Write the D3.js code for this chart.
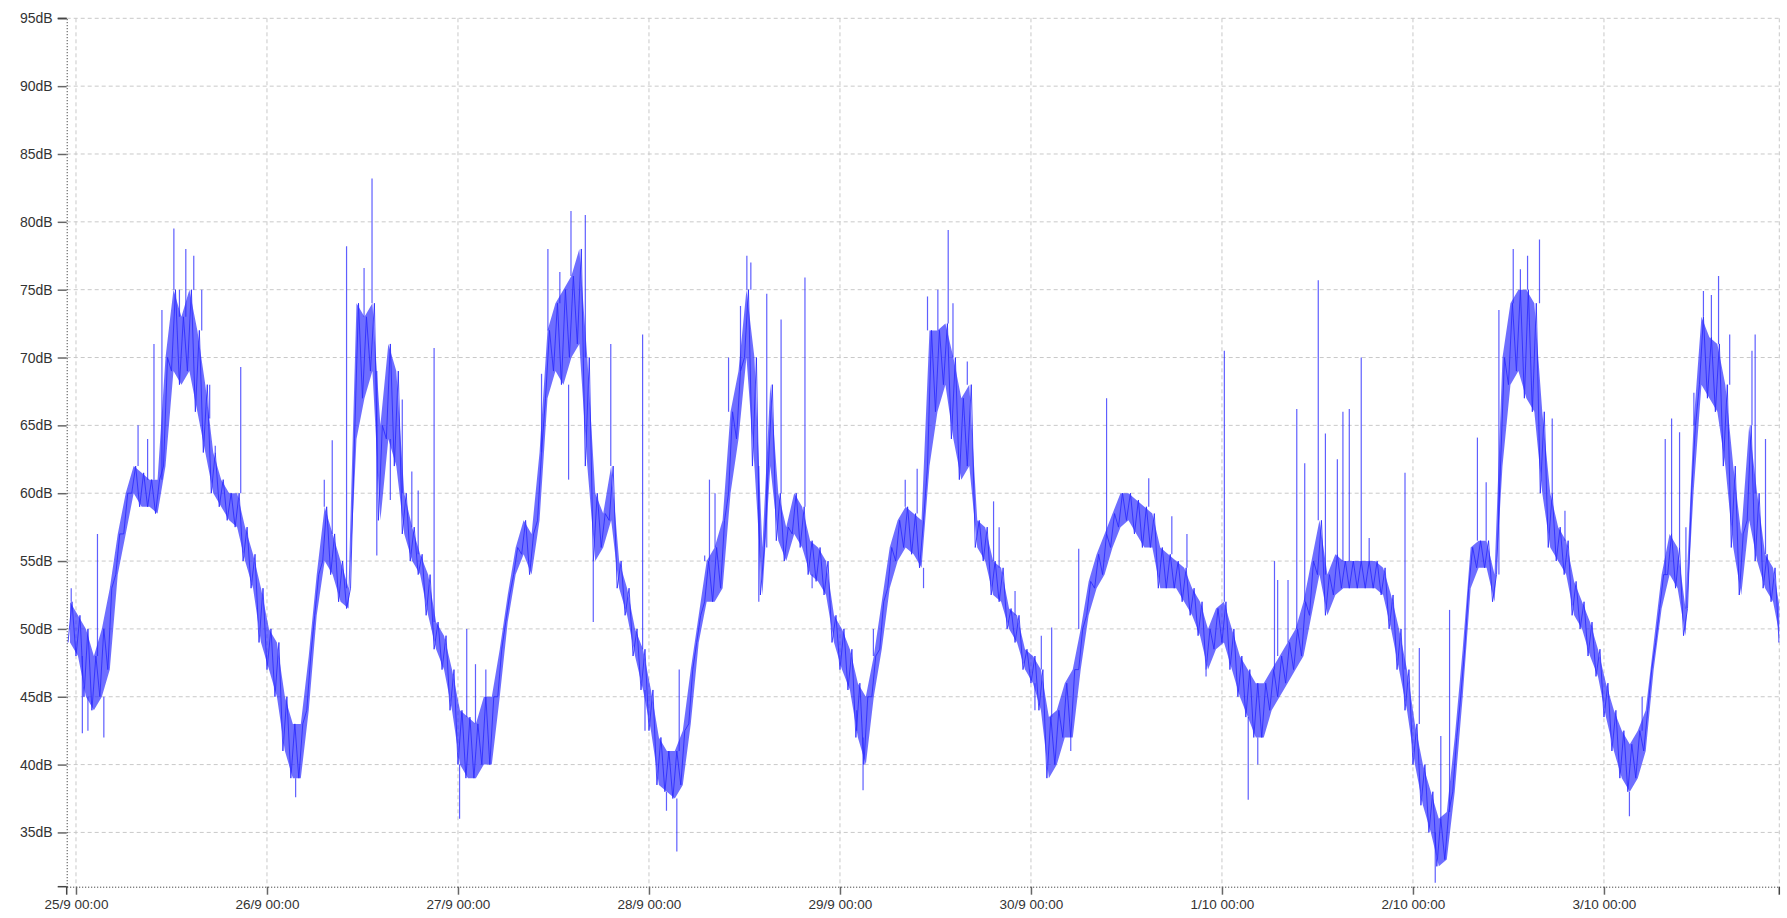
<!DOCTYPE html>
<html><head><meta charset="utf-8">
<script src="https://cdn.jsdelivr.net/npm/d3@7"></script>
<style>html,body{margin:0;padding:0;background:#fff;}svg{display:block}</style>
</head><body>
<svg id="chart" width="1787" height="918"></svg>
<script>
// ---- DATA ----
// hourly readings starting at 24/9 23:00 (hour -1 relative to 25/9 00:00)
const firstHour = -1;
const bodyLow = [
  49, 48, 45, 44, 45, 47, 54, 57, 60, 59, 59, 58.5, 62, 69, 68, 69, 66, 63, 60, 59, 58, 57.5, 55, 53, 49,
  47, 45, 41, 39, 39, 44, 51, 55, 54, 52, 51.5, 64, 67, 69, 58, 64, 62, 57, 55, 54, 51, 48.5, 47, 44,
  40, 39, 39, 40, 40, 45, 50.5, 54, 55.5, 54, 58, 67, 69, 68, 70, 71, 62, 55, 56, 58, 53, 51, 48, 45.5,
  42.5, 38.5, 38, 37.5, 38.5, 43, 49, 52, 52, 53, 60, 64, 70, 62, 52.5, 62, 56.5, 55, 57, 56, 54, 53.5, 52.5, 49,
  47, 45.5, 42, 40, 45, 48.5, 53, 55, 56, 55.5, 54.5, 62, 66, 68, 64, 61, 62, 56, 55, 52.5, 52, 50, 49, 47,
  46, 44, 39, 40, 42, 42, 47, 51, 53, 54, 56, 57.5, 58, 57, 56, 56, 53, 53, 53, 52, 51, 49.5, 47, 48.5,
  49, 47, 45, 43.5, 42, 42, 44, 45, 46, 47, 48, 51, 54, 51, 52.5, 53, 53, 53, 53, 53, 52.5, 50, 47, 44,
  40, 37, 35, 32.5, 33, 38, 45, 53, 54.5, 54.5, 52, 62, 68, 69, 67, 66, 60, 56, 55, 54, 51, 50, 48, 46.5,
  43.5, 41, 39, 38, 39, 41, 47, 51.5, 54, 53, 49.5, 60, 68, 67, 66, 62, 56, 52.5, 58, 55, 53, 52, 49
];
const bodyHigh = [
  52, 51, 50, 48, 50, 53, 57, 60, 62, 61.5, 61, 61, 70, 75, 73, 75, 72, 68, 63, 61, 60, 60, 57.5, 55.5, 53,
  50, 49, 45, 43, 43, 48, 54, 59, 57, 55, 53, 74, 73, 74, 65, 71, 69, 60, 57.5, 55.5, 54, 50.5, 49.5, 47,
  44, 43.5, 43, 45, 45, 48.5, 52.5, 56, 58, 57, 63, 72, 74, 75, 76, 78, 70, 60, 58.5, 62, 55, 53, 50, 48.5,
  45.5, 42, 41, 41, 42.5, 47, 51, 55, 56, 58, 66, 69, 75, 70, 56, 68, 60, 57.5, 60, 59, 56.5, 56, 55, 51,
  50, 48.5, 46, 45, 48, 52, 56, 58, 59, 58.5, 58, 72, 72, 72.5, 70, 67, 68, 58, 57.5, 55, 54.5, 51.5, 51, 48.5,
  48, 47, 43.5, 44, 46, 47, 50, 53.5, 55.5, 57, 58.5, 60, 60, 59.5, 59, 58.5, 56, 55.5, 55, 54.5, 53, 52, 50, 51.5,
  52, 50, 48, 47, 46, 46, 47, 48, 49, 50, 52, 55, 58, 54, 55.5, 55, 55, 55, 55, 55, 54.5, 52.5, 50, 47,
  43, 40, 38, 36, 36.5, 42, 48.5, 56, 56.5, 56.5, 54, 70, 74, 75, 75, 74, 66, 60, 57.5, 56.5, 53.5, 52, 50.5, 48.5,
  46, 44, 42.5, 41.5, 42.5, 44, 49, 54, 57, 56, 51.5, 65, 73, 71.5, 71, 68, 62, 57, 65, 60, 55.5, 54.5, 51
];
// isolated peaks / dips (hour relative to 25/9 00:00, dB)
const spikeHour = [
  -0.6, 0.8, 1.5, 2.7, 3.5, 7.8, 9.0, 9.8, 10.8, 12.3, 13.0, 13.8, 14.8, 15.8, 16.8, 17.5, 20.7,
  27.6, 31.2, 32.2, 34.0, 36.2, 37.2, 37.8, 39.5, 41.0, 42.2, 43.0, 45.0,
  48.2, 49.1, 50.2, 51.5, 58.5, 59.3, 60.8, 61.9, 62.2, 64.0, 65.0, 67.2, 71.2, 71.5,
  74.2, 75.5, 75.8, 79.0, 79.6, 80.3, 82.0, 83.5, 84.3, 84.8, 85.8, 86.8, 88.6, 91.6, 92.5,
  98.1, 98.9, 100.2, 104.2, 105.7, 106.5, 107.0, 108.3, 109.6, 110.2, 112.0, 115.3, 116.0, 118.0,
  120.5, 121.3, 122.6, 125.0, 126.0, 129.5, 134.8, 137.7, 139.6, 142.0, 144.3,
  147.3, 148.5, 150.6, 151.0, 152.3, 153.4, 154.4, 156.1, 157.0, 158.5, 159.2, 160.0, 161.5, 162.5, 167.0, 168.8,
  170.8, 171.5, 172.6, 176.1, 177.2, 178.8, 180.6, 181.5, 182.4, 183.9, 185.5, 187.1,
  195.2, 196.8, 199.7, 200.5, 201.5, 202.3, 203.3, 204.5, 205.5, 206.4, 207.8, 210.6, 211.0, 212.3
];
const spikeValue = [
  53, 42.3, 42.5, 57, 42, 65, 64, 71, 73.5, 79.5, 75, 78, 77.5, 75, 68, 63.5, 69.3,
  37.6, 61, 63.9, 78.2, 76.6, 83.2, 55.4, 59.5, 66.9, 61.6, 60.2, 70.7,
  36, 50, 47.4, 47, 68.8, 78, 76.3, 61, 80.8, 80.5, 50.5, 71, 71.7, 42.5,
  36.6, 33.6, 47, 55.4, 61, 60, 70, 73.8, 77.5, 77, 52, 74.7, 72.8, 75.9, 53,
  42.5, 38.1, 50, 61, 61.8, 53, 74.5, 75, 79.4, 74, 69.7, 59.4, 57.5, 52.8,
  44, 49.5, 50.1, 41, 55.9, 67, 61.1, 58.3, 57, 46.5, 70.5,
  37.4, 40, 55, 53.6, 53.6, 66.2, 62.2, 75.7, 64.4, 62.5, 66, 66.2, 70, 56.7, 61.5, 48.6,
  31.3, 42.1, 51.4, 64.1, 60.8, 73.5, 78, 76.5, 77.5, 78.7, 65.5, 58.7,
  36.2, 45, 64, 65.5, 64.5, 57.5, 67.4, 74.9, 74.6, 76, 71.7, 70.5, 71.7, 64
];
const yTicks = [95, 90, 85, 80, 75, 70, 65, 60, 55, 50, 45, 40, 35];
const dayTicks = ["2023-09-25", "2023-09-26", "2023-09-27", "2023-09-28", "2023-09-29",
                  "2023-09-30", "2023-10-01", "2023-10-02", "2023-10-03"];
const yDomain = [31, 95];
const xDomain = ["2023-09-24T22:50:00Z", "2023-10-03T22:02:00Z"];

// ---- CHART ----
(function () {
const svg = d3.select("#chart");
const pLeft = 66.7, pRight = 1779.3, pTop = 18.3, pBottom = 886.7;
const t0 = Date.parse("2023-09-25T00:00:00Z");
const hourMs = 3600e3;
const atHour = h => new Date(t0 + h * hourMs);
const blue = "#2a2aff";

const x = d3.scaleUtc().domain(xDomain.map(d => new Date(d))).range([pLeft, pRight]);
const y = d3.scaleLinear().domain(yDomain).range([pBottom, pTop]);
const days = dayTicks.map(d => new Date(d + "T00:00:00Z"));

// grid
const grid = svg.append("g").attr("stroke", "#c9c9c9").attr("stroke-width", 1).attr("stroke-dasharray", "4,3");
grid.selectAll("line.h").data(yTicks).join("line")
  .attr("x1", pLeft).attr("x2", pRight).attr("y1", d => y(d)).attr("y2", d => y(d));
grid.selectAll("line.v").data(days.concat([x.domain()[1]])).join("line")
  .attr("x1", d => x(d)).attr("x2", d => x(d)).attr("y1", pTop).attr("y2", pBottom);

// series: hourly body (low/high) as a zig-zag trace
const pts = [];
bodyLow.forEach((lo, i) => {
  const h = firstHour + i;
  pts.push({h: h, v: lo});
  pts.push({h: h + 0.5, v: bodyHigh[i]});
});
const band = bodyLow.map((lo, i) => ({h: firstHour + i + 0.25, lo: lo, hi: bodyHigh[i]}));
// spikes: vertical strokes from the body to the peak / dip value
const spikes = spikeHour.map((h, i) => {
  const k = Math.max(0, Math.min(bodyLow.length - 1, Math.floor(h - firstHour)));
  const base = spikeValue[i] > bodyHigh[k] ? bodyHigh[k] : (spikeValue[i] < bodyLow[k] ? bodyLow[k] : (bodyLow[k] + bodyHigh[k]) / 2);
  return {h: h, base: base, v: spikeValue[i]};
});

svg.append("clipPath").attr("id", "clip").append("rect")
  .attr("x", pLeft).attr("y", pTop).attr("width", pRight - pLeft).attr("height", pBottom - pTop);
const plot = svg.append("g").attr("clip-path", "url(#clip)");

plot.append("path").datum(band)
  .attr("fill", blue).attr("fill-opacity", 0.68)
  .attr("d", d3.area().x(d => x(atHour(d.h))).y0(d => y(d.lo)).y1(d => y(d.hi)));

plot.append("path").datum(pts)
  .attr("fill", "none").attr("stroke", blue).attr("stroke-opacity", 0.85).attr("stroke-width", 1)
  .attr("d", d3.line().x(d => x(atHour(d.h))).y(d => y(d.v)));

plot.append("g").selectAll("line").data(spikes).join("line")
  .attr("stroke", blue).attr("stroke-opacity", 0.75).attr("stroke-width", 1.2)
  .attr("x1", d => x(atHour(d.h))).attr("x2", d => x(atHour(d.h)))
  .attr("y1", d => y(d.base)).attr("y2", d => y(d.v));

// axes
const fmt = d3.utcFormat("%-d/%-m %H:%M");
const yAxis = svg.append("g").attr("transform", `translate(${pLeft},0)`)
  .call(d3.axisLeft(y).tickValues(yTicks).tickFormat(d => d + "dB").tickSize(9).tickSizeOuter(0).tickPadding(5));
const xAxis = svg.append("g").attr("transform", `translate(0,${pBottom})`)
  .call(d3.axisBottom(x).tickValues(days).tickFormat(fmt).tickSize(8).tickSizeOuter(0).tickPadding(5));

[yAxis, xAxis].forEach(g => {
  g.select(".domain").attr("stroke", "#222").attr("stroke-dasharray", "1,2").attr("stroke-width", 1);
  g.selectAll(".tick line").attr("stroke", "#666").attr("stroke-width", 1.5);
  g.selectAll("text").attr("fill", "#333").attr("font-family", "'Liberation Sans', Arial, sans-serif");
});
yAxis.selectAll("text").attr("font-size", 14);
xAxis.selectAll("text").attr("font-size", 13.5);

// outer end ticks
const ends = svg.append("g").attr("stroke", "#444").attr("stroke-width", 1.5);
ends.append("line").attr("x1", pLeft - 9).attr("x2", pLeft).attr("y1", y(yDomain[0])).attr("y2", y(yDomain[0]));
ends.append("line").attr("x1", pLeft - 9).attr("x2", pLeft).attr("y1", y(yDomain[1])).attr("y2", y(yDomain[1]));
ends.selectAll("line.xe").data(x.domain()).join("line")
  .attr("x1", d => x(d)).attr("x2", d => x(d)).attr("y1", pBottom).attr("y2", pBottom + 8);
})();
</script>
</body></html>
